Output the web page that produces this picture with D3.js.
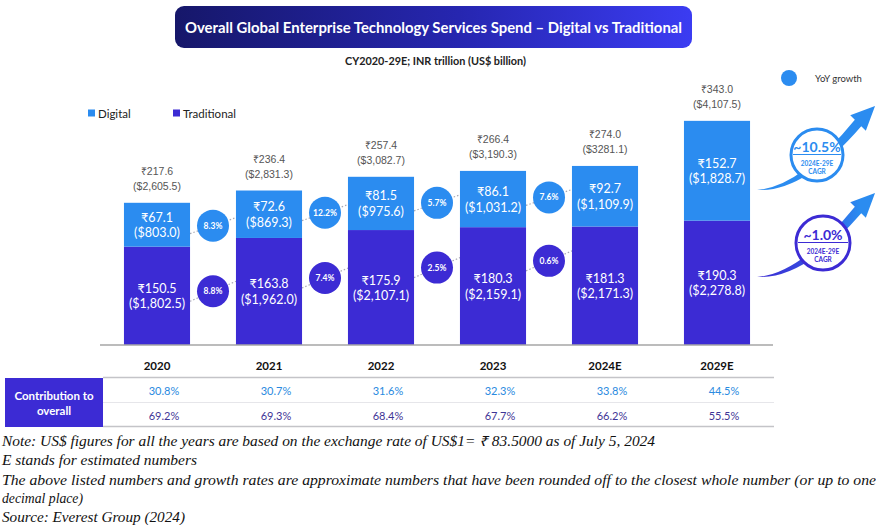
<!DOCTYPE html>
<html>
<head>
<meta charset="utf-8">
<script src="https://cdn.jsdelivr.net/npm/d3@7"></script>
<style>
  html, body { margin: 0; padding: 0; background: #ffffff; }
  svg { display: block; }
</style>
</head>
<body>
<svg id="chart" width="876" height="525"></svg>
<script>
// ---------------- DATA ----------------
const years = ["2020", "2021", "2022", "2023", "2024E", "2029E"];
const digitalINR = [67.1, 72.6, 81.5, 86.1, 92.7, 152.7];
const digitalUSD = ["$803.0", "$869.3", "$975.6", "$1,031.2", "$1,109.9", "$1,828.7"];
const traditionalINR = [150.5, 163.8, 175.9, 180.3, 181.3, 190.3];
const traditionalUSD = ["$1,802.5", "$1,962.0", "$2,107.1", "$2,159.1", "$2,171.3", "$2,278.8"];
const totalINR = [217.6, 236.4, 257.4, 266.4, 274.0, 343.0];
const totalUSD = ["$2,605.5", "$2,831.3", "$3,082.7", "$3,190.3", "$3281.1", "$4,107.5"];
const digitalGrowth = ["8.3%", "12.2%", "5.7%", "7.6%"];
const traditionalGrowth = ["8.8%", "7.4%", "2.5%", "0.6%"];
const digitalShare = ["30.8%", "30.7%", "31.6%", "32.3%", "33.8%", "44.5%"];
const traditionalShare = ["69.2%", "69.3%", "68.4%", "67.7%", "66.2%", "55.5%"];
const cagrLabels = ["~10.5%", "~1.0%"];
const cagrPeriod = ["2024E-29E", "CAGR"];
const seriesNames = ["Digital", "Traditional"];
const titleText = "Overall Global Enterprise Technology Services Spend \u2013 Digital vs Traditional";
const subtitleText = "CY2020-29E; INR trillion (US$ billion)";
const tableHeader = ["Contribution to", "overall"];
const footnotes = [
  "Note: US$ figures for all the years are based on the exchange rate of US$1= \u20B9 83.5000 as of July 5, 2024",
  "E stands for estimated numbers",
  "The above listed numbers and growth rates are approximate numbers that have been rounded off to the closest whole number (or up to one",
  "decimal place)",
  "Source: Everest Group (2024)"
];

// ---------------- STYLE ----------------
const C_DIG = "#2b8cf0";
const C_TRAD = "#3c2bd4";
const SANS = "Lato, 'Open Sans', 'Noto Sans', sans-serif";
const ARIAL = "'Liberation Sans', Arial, sans-serif";
const SERIF = "'Liberation Serif', 'Times New Roman', serif";

const svg = d3.select("#chart");
const defs = svg.append("defs");

// ---------------- SCALES ----------------
const x = d3.scaleBand().domain(years).range([101, 773]).paddingInner(0.41).paddingOuter(0.205);
const y = d3.scaleLinear().domain([0, 350]).range([345, 345 - 350 * 0.6535]);
const bw = x.bandwidth();
const cx = d => x(d) + bw / 2;

// ---------------- TITLE ----------------
const tg = defs.append("linearGradient").attr("id", "titleGrad").attr("x1", "0").attr("x2", "1").attr("y1", "0").attr("y2", "0");
tg.append("stop").attr("offset", "0%").attr("stop-color", "#16176a");
tg.append("stop").attr("offset", "55%").attr("stop-color", "#2626b0");
tg.append("stop").attr("offset", "100%").attr("stop-color", "#3b3cf2");
svg.append("rect").attr("x", 175).attr("y", 6).attr("width", 517).attr("height", 42).attr("rx", 9)
  .attr("fill", "url(#titleGrad)");
svg.append("text").attr("x", 433.5).attr("y", 27).attr("text-anchor", "middle").attr("dominant-baseline", "central")
  .attr("font-family", SANS).attr("font-weight", 700).attr("font-size", 15).attr("fill", "#fff")
  .attr("textLength", 497).attr("lengthAdjust", "spacingAndGlyphs").text(titleText);
svg.append("text").attr("x", 435.5).attr("y", 60).attr("text-anchor", "middle").attr("dominant-baseline", "central")
  .attr("font-family", SANS).attr("font-weight", 700).attr("font-size", 11).attr("fill", "#222")
  .attr("textLength", 181).attr("lengthAdjust", "spacingAndGlyphs").text(subtitleText);

// ---------------- LEGEND ----------------
const legendX = [88, 173];
seriesNames.forEach((n, i) => {
  svg.append("rect").attr("x", legendX[i]).attr("y", 109.5).attr("width", 7).attr("height", 7)
    .attr("fill", i === 0 ? C_DIG : C_TRAD);
  svg.append("text").attr("x", legendX[i] + 10).attr("y", 113).attr("dominant-baseline", "central")
    .attr("font-family", SANS).attr("font-size", 11.5).attr("fill", "#222").text(n);
});
svg.append("circle").attr("cx", 789).attr("cy", 78).attr("r", 8).attr("fill", C_DIG);
svg.append("text").attr("x", 815).attr("y", 78).attr("dominant-baseline", "central")
  .attr("font-family", SANS).attr("font-size", 9.5).attr("fill", "#333").text("YoY growth");

// ---------------- CONNECTORS & GROWTH CIRCLES ----------------
const gConn = svg.append("g");
const gBars = svg.append("g");
const gCirc = svg.append("g");

function growthRow(vals, yTop, yBot, color, offsetFn, slope) {
  vals.forEach((v, i) => {
    const a = years[i], b = years[i + 1];
    const cy = ((yTop(i) + yTop(i + 1)) / 2) + offsetFn(i);
    const mx = (x(a) + bw + x(b)) / 2;
    gConn.append("line").attr("x1", x(a) + bw).attr("y1", cy + slope).attr("x2", x(b)).attr("y2", cy - slope)
      .attr("stroke", "#a9a9b4").attr("stroke-width", 1.2).attr("stroke-dasharray", "1.5,2");
    gCirc.append("circle").attr("cx", mx).attr("cy", cy).attr("r", 16).attr("fill", color);
    gCirc.append("text").attr("x", mx).attr("y", cy).attr("text-anchor", "middle").attr("dominant-baseline", "central")
      .attr("font-family", SANS).attr("font-weight", 700).attr("font-size", 8.5).attr("fill", "#fff").text(v);
  });
}
growthRow(digitalGrowth, i => y(totalINR[i]), null, C_DIG, i => 29, 8);
growthRow(traditionalGrowth, i => y(traditionalINR[i]), null, C_TRAD, i => 49 - 5 * i, 10);

// ---------------- BARS ----------------
gBars.selectAll("rect.trad").data(years).join("rect").attr("class", "trad")
  .attr("x", d => x(d)).attr("width", bw)
  .attr("y", (d, i) => y(traditionalINR[i])).attr("height", (d, i) => y(0) - y(traditionalINR[i]))
  .attr("fill", C_TRAD);
gBars.selectAll("rect.dig").data(years).join("rect").attr("class", "dig")
  .attr("x", d => x(d)).attr("width", bw)
  .attr("y", (d, i) => y(totalINR[i])).attr("height", (d, i) => y(traditionalINR[i]) - y(totalINR[i]))
  .attr("fill", C_DIG);

// segment labels
years.forEach((d, i) => {
  const dc = (y(totalINR[i]) + y(traditionalINR[i])) / 2;
  const tc = (y(traditionalINR[i]) + y(0)) / 2;
  [[dc, digitalINR[i], digitalUSD[i]], [tc, traditionalINR[i], traditionalUSD[i]]].forEach(([c, v, u]) => {
    gBars.append("text").attr("x", cx(d)).attr("y", c - 7.5).attr("text-anchor", "middle").attr("dominant-baseline", "central")
      .attr("font-family", SANS).attr("font-size", 12.5).attr("fill", "#fff").text("\u20B9" + v.toFixed(1));
    gBars.append("text").attr("x", cx(d)).attr("y", c + 8).attr("text-anchor", "middle").attr("dominant-baseline", "central")
      .attr("font-family", SANS).attr("font-size", 12.5).attr("fill", "#fff").text("(" + u + ")");
  });
  // totals
  const t = y(totalINR[i]);
  gBars.append("text").attr("x", cx(d)).attr("y", t - 32).attr("text-anchor", "middle").attr("dominant-baseline", "central")
    .attr("font-family", ARIAL).attr("font-size", 10.5).attr("fill", "#555").text("\u20B9" + totalINR[i].toFixed(1));
  gBars.append("text").attr("x", cx(d)).attr("y", t - 17).attr("text-anchor", "middle").attr("dominant-baseline", "central")
    .attr("font-family", ARIAL).attr("font-size", 10.5).attr("fill", "#555").text("(" + totalUSD[i] + ")");
});

// axis
const xAxis = svg.append("g").attr("transform", `translate(0,${y(0)})`)
  .call(d3.axisBottom(x).tickSize(0).tickPadding(17));
xAxis.select(".domain").attr("stroke", "#a6a6a6").attr("stroke-width", 1.5).attr("d", "M100,0H773");
xAxis.selectAll(".tick text").attr("font-family", SANS).attr("font-weight", 700).attr("font-size", 11.5).attr("fill", "#111");

// ---------------- TABLE ----------------
svg.append("rect").attr("x", 5).attr("y", 378).attr("width", 98).attr("height", 49).attr("fill", C_TRAD);
tableHeader.forEach((t, i) => {
  svg.append("text").attr("x", 54).attr("y", 395 + i * 15).attr("text-anchor", "middle").attr("dominant-baseline", "central")
    .attr("font-family", SANS).attr("font-weight", 700).attr("font-size", 11.5).attr("fill", "#fff").text(t);
});
svg.append("line").attr("x1", 103).attr("x2", 774).attr("y1", 377.5).attr("y2", 377.5).attr("stroke", "#c4c4c8").attr("stroke-width", 1.5);
svg.append("line").attr("x1", 103).attr("x2", 774).attr("y1", 402.5).attr("y2", 402.5).attr("stroke", "#e6e6ea").attr("stroke-width", 1);
svg.append("line").attr("x1", 103).attr("x2", 774).attr("y1", 426.5).attr("y2", 426.5).attr("stroke", "#c4c4c8").attr("stroke-width", 1.5);
years.forEach((d, i) => {
  svg.append("text").attr("x", cx(d) + 7).attr("y", 390).attr("text-anchor", "middle").attr("dominant-baseline", "central")
    .attr("font-family", SANS).attr("font-size", 11).attr("fill", "#2a8ae0").text(digitalShare[i]);
  svg.append("text").attr("x", cx(d) + 7).attr("y", 415).attr("text-anchor", "middle").attr("dominant-baseline", "central")
    .attr("font-family", SANS).attr("font-size", 11).attr("fill", "#3f3596").text(traditionalShare[i]);
});

// ---------------- CAGR ARROWS ----------------
const ag = defs.append("linearGradient").attr("id", "arrowGrad").attr("gradientUnits", "userSpaceOnUse")
  .attr("x1", 757).attr("y1", 0).attr("x2", 860).attr("y2", 0);
ag.append("stop").attr("offset", "0%").attr("stop-color", C_TRAD);
ag.append("stop").attr("offset", "55%").attr("stop-color", "#3550e0");
ag.append("stop").attr("offset", "100%").attr("stop-color", C_DIG);

function arrow(tx, ty, fill) {
  const p = d3.path();
  p.moveTo(tx, ty);
  p.quadraticCurveTo(tx + 43, ty - 3, tx + 97.8, ty - 70.2);
  p.lineTo(tx + 93.2, ty - 74.8);
  p.lineTo(tx + 118, ty - 84);
  p.lineTo(tx + 108.8, ty - 59.2);
  p.lineTo(tx + 104.2, ty - 63.8);
  p.quadraticCurveTo(tx + 47, ty + 2.5, tx, ty);
  p.closePath();
  svg.append("path").attr("d", p.toString()).attr("fill", fill);
}
const arrowX = x(years[5]) + bw + 7;
arrow(arrowX, 190, C_DIG);
arrow(arrowX, 277, "url(#arrowGrad)");

function cagrBadge(cxp, cyp, r, color, label, fs) {
  svg.append("circle").attr("cx", cxp).attr("cy", cyp).attr("r", r).attr("fill", "#fff").attr("stroke", color).attr("stroke-width", 3);
  svg.append("text").attr("x", cxp).attr("y", cyp - 9).attr("text-anchor", "middle").attr("dominant-baseline", "central")
    .attr("font-family", SANS).attr("font-weight", 700).attr("font-size", fs).attr("fill", color).text(label);
  svg.append("line").attr("x1", cxp - r + 2).attr("x2", cxp + r - 2).attr("y1", cyp - 0.5).attr("y2", cyp - 0.5)
    .attr("stroke", color).attr("stroke-width", 1);
  cagrPeriod.forEach((t, i) => {
    svg.append("text").attr("x", cxp).attr("y", cyp + 8 + i * 8.5).attr("text-anchor", "middle").attr("dominant-baseline", "central")
      .attr("font-family", SANS).attr("font-weight", 700).attr("font-size", 6.5).attr("fill", color).text(t);
  });
}
cagrBadge(817, 155, 26, C_DIG, cagrLabels[0], 14);
cagrBadge(823, 243, 27, C_TRAD, cagrLabels[1], 14);

// ---------------- FOOTNOTES ----------------
const fnY = [446, 465, 485, 503, 522];
const fnW = [653, 195, 874, 81, 183];
footnotes.forEach((t, i) => {
  svg.append("text").attr("x", 2).attr("y", fnY[i])
    .attr("font-family", SERIF).attr("font-style", "italic").attr("font-size", 14).attr("fill", "#111")
    .attr("textLength", fnW[i]).attr("lengthAdjust", "spacingAndGlyphs").text(t);
});
</script>
</body>
</html>
